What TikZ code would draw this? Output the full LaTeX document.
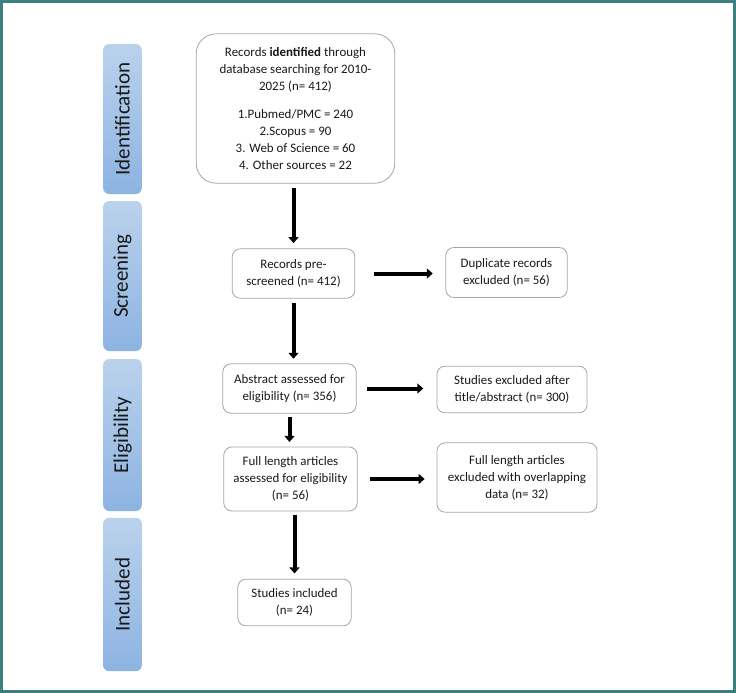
\documentclass[tikz,border=0pt]{standalone}
\usepackage{fontspec}
\setmainfont{Carlito}
\usetikzlibrary{arrows.meta}
\definecolor{frameteal}{RGB}{58,128,128}
\definecolor{phasetop}{RGB}{186,210,236}
\definecolor{phasebot}{RGB}{141,179,226}
\definecolor{boxline}{RGB}{165,165,165}
\definecolor{txtgray}{RGB}{25,25,25}
\tikzset{
  stagebox/.style={draw=boxline, line width=0.6pt, fill=white, rounded corners=6pt,
    align=center, text=txtgray, font=\fontsize{9.7}{12.7}\selectfont, inner sep=2pt},
  phase/.style={rounded corners=4.5pt, top color=phasetop, bottom color=phasebot,
    draw=none, minimum width=29pt, inner sep=0pt},
  phaselabel/.style={rotate=90, text=txtgray, font=\fontsize{15.8}{16}\selectfont},
  flow/.style={-{Triangle[length=4.5pt,width=7.5pt]}, line width=3pt, black}
}
\begin{document}
\begin{tikzpicture}[x=0.75pt, y=-0.75pt]
  \useasboundingbox (0,0) rectangle (736,693);
  % Frame
  \draw[frameteal, line width=1.9pt] (1.3,1.3) rectangle (734.7,691.7);

  % Phase bars
  \node[phase, minimum height=112.5pt] (phaseId) at (122.5,119) {};
  \node[phaselabel] at (phaseId) {Identification};
  \node[phase, minimum height=112.5pt] (phaseScr) at (122.5,276) {};
  \node[phaselabel] at (phaseScr) {Screening};
  \node[phase, minimum height=114pt] (phaseElig) at (122.5,435) {};
  \node[phaselabel] at (phaseElig) {Eligibility};
  \node[phase, minimum height=115pt] (phaseIncl) at (122.5,594.5) {};
  \node[phaselabel] at (phaseIncl) {Included};

  % Records identified
  \node[stagebox, rounded corners=15pt, minimum width=149pt, minimum height=112pt] (idBox) at (295.5,108.5)
    {\fontsize{9.7}{12}\selectfont Records \textbf{identified} through\\database searching for 2010-\\2025 (n= 412)\\[8pt]
     1.Pubmed/PMC = 240\\2.Scopus = 90\\3. Web of Science = 60\\4. Other sources = 22};

  % Screening
  \node[stagebox, minimum width=92pt, minimum height=37pt] (screenBox) at (293.5,273.5)
    {Records pre-\\screened (n= 412)};
  \node[stagebox, minimum width=91pt, minimum height=37.5pt] (dupBox) at (506.5,272.5)
    {Duplicate records\\excluded (n= 56)};

  % Eligibility
  \node[stagebox, minimum width=100pt, minimum height=37pt] (absBox) at (289.5,388.5)
    {Abstract assessed for\\eligibility (n= 356)};
  \node[stagebox, minimum width=112.5pt, minimum height=35pt] (exclBox) at (512,389.5)
    {Studies excluded after\\title/abstract (n= 300)};
  \node[stagebox, minimum width=100pt, minimum height=48pt] (fullBox) at (290.5,479)
    {Full length articles\\assessed for eligibility\\(n= 56)};
  \node[stagebox, minimum width=120pt, minimum height=52pt] (overlapBox) at (517,477.5)
    {Full length articles\\excluded with overlapping\\data (n= 32)};

  % Included
  \node[stagebox, minimum width=85pt, minimum height=35pt] (inclBox) at (294.5,602.5)
    {Studies included\\(n= 24)};

  % Arrows
  \draw[flow, shorten <=3pt, shorten >=4pt] (idBox.south -| screenBox.north) -- (screenBox.north);
  \draw[flow, shorten <=3.5pt, shorten >=3.5pt] (screenBox.south) -- (screenBox.south |- absBox.north);
  \draw[flow, shorten <=2.5pt, shorten >=3.5pt] (absBox.south) -- (absBox.south |- fullBox.north);
  \draw[flow, shorten <=3pt, shorten >=4pt] (fullBox.south -| inclBox.north) -- (inclBox.north);
  \draw[flow, shorten <=14pt, shorten >=9.5pt] (screenBox.east) -- (screenBox.east -| dupBox.west);
  \draw[flow, shorten <=8pt, shorten >=10pt] (absBox.east) -- (absBox.east -| exclBox.west);
  \draw[flow, shorten <=9pt, shorten >=9pt] (fullBox.east) -- (fullBox.east -| overlapBox.west);
\end{tikzpicture}
\end{document}
